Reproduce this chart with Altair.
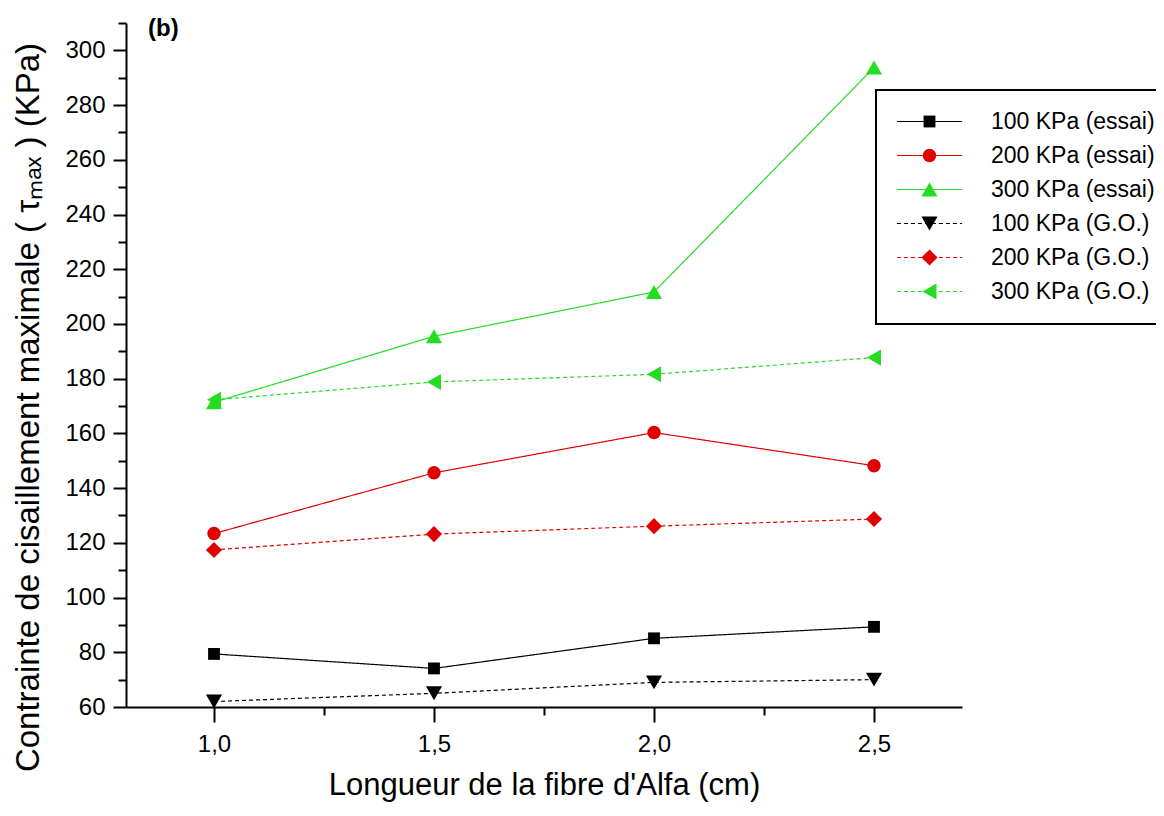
import altair as alt
import pandas as pd

FONT = "Liberation Sans, Arial, Helvetica, sans-serif"

# ---- data ----
lengths = [1.0, 1.5, 2.0, 2.5]
series_names = ["100 KPa (essai)", "200 KPa (essai)", "300 KPa (essai)",
                "100 KPa (G.O.)", "200 KPa (G.O.)", "300 KPa (G.O.)"]
essai_100 = [79.4, 74.1, 85.1, 89.3]
essai_200 = [123.4, 145.6, 160.3, 148.2]
essai_300 = [171.4, 195.5, 211.7, 293.7]
go_100 = [62.0, 65.0, 69.0, 70.0]
go_200 = [117.4, 123.2, 126.1, 128.7]
go_300 = [172.3, 178.8, 181.6, 187.7]

y_major = [60, 80, 100, 120, 140, 160, 180, 200, 220, 240, 260, 280, 300]
y_minor = [70, 90, 110, 130, 150, 170, 190, 210, 230, 250, 270, 290, 310]
x_major = [1.0, 1.5, 2.0, 2.5]
x_minor = [1.25, 1.75, 2.25]

colors = ["#000000", "#E00000", "#22DD22", "#000000", "#E00000", "#22DD22"]
shapes = ["square", "circle", "triangle-up", "triangle-down", "diamond", "triangle-left"]
dashes = [[1, 0], [1, 0], [1, 0], [4, 3], [4, 3], [4, 3]]
sizes = [140, 180, 260, 260, 260, 260]

all_vals = [essai_100, essai_200, essai_300, go_100, go_200, go_300]
line_names = [n + " " for n in series_names]

rows = []
for name, lname, vals in zip(series_names, line_names, all_vals):
    for x, v in zip(lengths, vals):
        rows.append({"longueur": x, "tau": v, "series": name, "line_series": lname})
df = pd.DataFrame(rows)

xscale = alt.Scale(domain=[0.8, 2.7], zero=False, nice=False)
yscale = alt.Scale(domain=[60, 310], zero=False, nice=False)

common_legend = dict(title=None, orient="none", legendX=750, legendY=67, padding=20,
                     rowPadding=10, symbolOffset=22, labelOffset=50, labelFontSize=23,
                     labelFont=FONT, labelLimit=0)

legend_points = alt.Legend(strokeColor="black", labelColor="black", zindex=2, **common_legend)
legend_lines = alt.Legend(labelColor="transparent", symbolType="M-5,0L5,0", symbolSize=170,
                          symbolStrokeWidth=1.2, zindex=1, **common_legend)

base = alt.Chart(df)

lines = base.mark_line(strokeWidth=1.2).encode(
    x=alt.X("longueur:Q", scale=xscale,
            axis=alt.Axis(values=x_major, title="Longueur de la fibre d'Alfa (cm)",
                          labelExpr="replace(format(datum.value, '.1f'), '.', ',')",
                          tickSize=15, labelPadding=10, orient="bottom",
                          titleY=87, titleBaseline="alphabetic")),
    y=alt.Y("tau:Q", scale=yscale,
            axis=alt.Axis(values=y_major, format="d",
                          title="Contrainte de cisaillement maximale ( τₘₐₓ ) (KPa)",
                          tickSize=13, labelPadding=8, orient="left",
                          titleX=-98, titleY=384, titleAngle=270, titleFontSize=33,
                          titleAlign="center", titleBaseline="middle")),
    stroke=alt.Stroke("line_series:N", scale=alt.Scale(domain=line_names, range=colors),
                      legend=legend_lines),
    strokeDash=alt.StrokeDash("line_series:N", scale=alt.Scale(domain=line_names, range=dashes),
                              legend=legend_lines),
    detail="series:N",
)

points = base.mark_point(filled=True, opacity=1).encode(
    x=alt.X("longueur:Q", scale=xscale, axis=None),
    y=alt.Y("tau:Q", scale=yscale, axis=None),
    color=alt.Color("series:N", scale=alt.Scale(domain=series_names, range=colors),
                    legend=legend_points),
    shape=alt.Shape("series:N", scale=alt.Scale(domain=series_names, range=shapes),
                    legend=legend_points),
    size=alt.Size("series:N",
                  scale=alt.Scale(type="ordinal", domain=series_names, range=sizes),
                  legend=legend_points),
)

minor = base.mark_point(opacity=0).encode(
    x=alt.X("longueur:Q", scale=xscale,
            axis=alt.Axis(values=x_minor, labels=False, tickSize=8, domain=False,
                          title=None, orient="bottom")),
    y=alt.Y("tau:Q", scale=yscale,
            axis=alt.Axis(values=y_minor, labels=False, tickSize=8, domain=False,
                          title=None, orient="left")),
)

chart = alt.layer(lines, points, minor).resolve_scale(
    x="shared", y="shared"
).resolve_axis(
    x="independent", y="independent"
).properties(
    width=836,
    height=684,
    autosize=alt.AutoSizeParams(type="none"),
    padding={"left": 118, "top": 15, "right": 194, "bottom": 96},
    title=alt.TitleParams("(b)", anchor="start", frame="group", fontSize=24,
                          fontWeight="bold", font=FONT, dx=22, dy=38, offset=0,
                          baseline="alphabetic", color="black"),
).configure_view(
    stroke=None
).configure_axis(
    labelFont=FONT, titleFont=FONT, labelFontSize=24, titleFontSize=31,
    titleFontWeight="normal", domainColor="black", domainWidth=2,
    tickColor="black", tickWidth=2, labelColor="black", titleColor="black",
    grid=False
).configure_legend(
    strokeWidth=2
)

chart.save("out.html", embed_options={"renderer": "svg", "actions": False})
